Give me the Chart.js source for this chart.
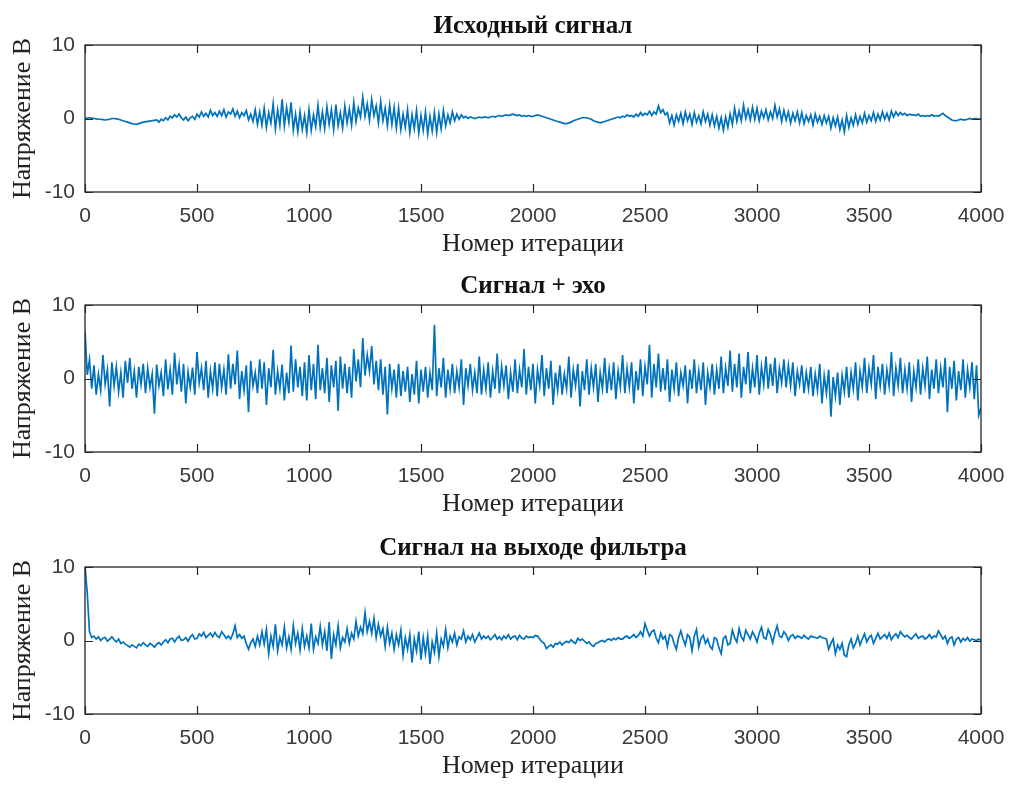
<!DOCTYPE html>
<html>
<head>
<meta charset="utf-8">
<script src="https://cdn.jsdelivr.net/npm/chart.js@4"></script>
<style>
  html, body { margin: 0; padding: 0; background: #fff; }
  body { width: 1014px; height: 785px; position: relative; overflow: hidden; }
  .plot { position: absolute; left: 0; width: 1014px; height: 262px; }
</style>
</head>
<body>
<div class="plot" style="top:0px"><canvas id="c1"></canvas></div>
<div class="plot" style="top:260px"><canvas id="c2"></canvas></div>
<div class="plot" style="top:522px"><canvas id="c3"></canvas></div>
<script>
// sample grid (every 10th iteration, 0..4000)
const STEP = 10;
const iterations = Array.from({ length: 401 }, (_, i) => i * STEP);

const xTicks = [0, 500, 1000, 1500, 2000, 2500, 3000, 3500, 4000];
const yTicks = [-10, 0, 10];

const titles = ["Исходный сигнал", "Сигнал + эхо", "Сигнал на выходе фильтра"];
const xLabel = "Номер итерации";
const yLabel = "Напряжение В";

// values, one row = 200 iterations
const original = [
  0, 0.05, 0.1, 0.05, 0, -0.05, -0.1, -0.1, -0.15, -0.2, -0.15, -0.1, 0, 0, -0.05, -0.1, -0.2, -0.3, -0.4, -0.5,
  -0.6, -0.7, -0.75, -0.8, -0.7, -0.6, -0.5, -0.45, -0.4, -0.35, -0.3, -0.25, -0.2, -0.5, -0.1, -0.3, 0.1, -0.2, 0.3, 0.1,
  0.5, 0.2, 0.6, 0.1, -0.2, 0.2, -0.3, 0.1, 0.3, -0.1, 0.6, 0.2, 0.9, 0.3, 0.7, 0.2, 1.1, 0.4, 0.8, 0.3,
  1.0, 0.4, 1.2, 0.2, 0.9, 0.6, 1.3, 0.3, 1.0, 0.1, 0.8, 0.4, 1.1, -0.2, 0.6, -0.4, 1.2, -0.8, 0.9, -0.9,
  1.4, -1.2, 0.8, -0.6, 2.0, -1.4, 1.2, -0.9, 2.6, -1.0, 1.5, -0.5, 2.2, -1.6, 0.6, -1.8, 0.9, -1.5, 0.4, -1.9,
  1.2, -1.6, 0.5, -1.1, 1.8, -1.2, 0.9, -1.4, 1.6, -0.8, 1.2, -1.5, 1.9, -1.0, 0.8, -1.3, 1.7, -0.6, 1.3, -0.9,
  2.2, -0.4, 1.4, 0.2, 2.9, 0.3, 2.0, -0.2, 2.6, 0.4, 1.7, -0.6, 2.3, -0.3, 1.4, -1.0, 1.8, -0.8, 1.5, -1.3,
  1.4, -1.5, 0.6, -1.2, 1.2, -1.9, 0.5, -1.4, 1.1, -2.0, 0.4, -1.6, 0.9, -2.1, 0.3, -1.7, 0.8, -1.9, 0.6, -1.4,
  1.1, -1.0, 0.5, -0.6, 0.9, -0.3, 0.6, -0.1, 0.5, 0.1, 0.3, 0.0, 0.2, 0.1, 0.0, 0.1, 0.2, 0.1, 0.2, 0.2,
  0.1, 0.2, 0.3, 0.2, 0.3, 0.4, 0.3, 0.4, 0.5, 0.4, 0.5, 0.6, 0.5, 0.4, 0.5, 0.3, 0.4, 0.3, 0.4, 0.3,
  0.3, 0.4, 0.5, 0.4, 0.3, 0.2, 0.1, 0, -0.1, -0.2, -0.3, -0.4, -0.5, -0.6, -0.7, -0.7, -0.6, -0.5, -0.3, -0.2,
  -0.1, 0, 0.1, 0.1, 0.1, 0, -0.1, -0.3, -0.4, -0.5, -0.6, -0.5, -0.4, -0.3, -0.2, -0.1, 0, 0.1, 0.2, 0.1,
  0.3, 0.2, 0.5, 0.3, 0.4, 0.2, 0.6, 0.3, 0.8, 0.4, 0.7, 0.5, 1.0, 0.4, 0.9, 0.6, 1.7, 0.8, 1.2, 0.5,
  0.8, -0.6, 0.4, -0.9, 0.5, -0.4, 0.7, -0.7, 0.9, -0.3, 0.6, -0.8, 0.8, -0.5, 0.4, -0.7, 0.9, -0.4, 0.6, -0.9,
  0.5, -1.0, 0.3, -1.3, 0.1, -1.6, 0.2, -1.2, 0.6, -0.8, 1.4, -0.4, 1.0, -0.3, 1.8, 0.0, 1.2, -0.2, 1.5, -0.1,
  1.4, -0.3, 1.0, 0.1, 1.2, -0.2, 0.9, 0.0, 1.8, 0.2, 1.3, -0.4, 1.1, -0.2, 0.9, -0.6, 0.7, -0.3, 0.9, -0.6,
  0.8, -0.7, 0.4, -0.4, 0.5, -0.9, 0.6, -0.5, 0.3, -0.8, 0.4, -0.6, 0.3, -1.3, 0.1, -1.0, 0.2, -1.5, -0.2, -1.8,
  0.4, -1.2, 0.1, -0.9, 0.5, -0.8, 0.3, -0.6, 0.7, -0.5, 0.4, -0.3, 0.8, -0.4, 0.6, -0.2, 0.9, -0.1, 0.7, -0.2,
  1.0, 0.2, 0.9, 0.4, 0.8, 0.5, 0.7, 0.4, 0.6, 0.5, 0.5, 0.4, 0.6, 0.3, 0.4, 0.3, 0.4, 0.3, 0.5, 0.3,
  0.4, 0.3, 0.5, 0.7, 0.4, 0.2, 0, -0.2, -0.3, -0.3, -0.2, -0.1, -0.2, -0.2, -0.1, 0, -0.1, 0, 0, -0.1,
  0
];

const withEcho = [
  6.5, 0.5, 2.6, -1.4, 1.8, -2.2, 0.6, -1.6, 3.2, -0.8, 1.2, -3.8, 2.2, -1.0, 1.6, -1.8, 0.8, -2.6, 2.4, -0.6,
  2.8, -1.4, 1.0, -2.6, 1.6, -0.8, 2.0, -2.0, 1.4, -1.2, 0.6, -4.8, 1.9, -1.0, 0.8, -2.4, 2.6, -1.5, 1.2, -2.2,
  3.5, -0.8, 1.8, -1.8, 2.0, -3.4, 0.9, -1.2, 1.5, -2.2, 3.6, -0.6, 1.4, -1.6, 2.4, -2.6, 1.0, -1.4, 2.2, -2.4,
  2.0, -1.2, 1.2, -2.2, 3.3, -1.4, 2.0, -0.8, 3.8, -2.8, 1.0, -1.6, 1.8, -4.6, 2.4, -1.0, 0.8, -2.0, 2.6, -1.4,
  2.2, -3.6, 1.4, -1.2, 3.9, -2.2, 1.0, -1.4, 1.9, -3.0, 0.8, -2.0, 4.5, -1.8, 2.6, -1.2, 1.6, -2.4, 2.2, -3.0,
  3.2, -1.6, 2.0, -2.8, 4.6, -1.6, 1.4, -2.0, 2.8, -3.2, 1.8, -1.2, 2.4, -4.4, 3.0, -1.4, 2.0, -2.0, 1.6, -2.6,
  4.0, -0.4, 2.6, -1.2, 5.5, 0.4, 3.2, 1.0, 4.4, -0.8, 2.4, -1.6, 2.6, -2.2, 1.6, -4.9, 2.0, -1.4, 1.2, -2.6,
  2.0, -2.4, 1.0, -1.8, 1.6, -3.2, 0.6, -2.2, 2.4, -3.4, 1.2, -1.8, 1.6, -2.6, 0.8, -1.6, 7.3, -2.4, 1.4, -1.2,
  2.8, -2.6, 1.2, -1.4, 2.0, -2.0, 1.0, -1.2, 2.6, -3.6, 1.4, -1.0, 2.0, -1.6, 0.8, -2.0, 3.0, -2.2, 1.2, -1.4,
  2.2, -2.6, 1.0, -1.4, 3.4, -2.0, 1.6, -1.0, 1.8, -2.8, 0.8, -1.8, 2.6, -2.0, 1.2, -1.2, 4.0, -2.2, 1.6, -1.6,
  2.0, -3.4, 1.2, -1.0, 3.2, -2.4, 1.4, -1.4, 2.4, -3.6, 0.8, -1.6, 1.8, -2.2, 0.6, -1.4, 3.0, -2.6, 1.2, -1.0,
  2.0, -3.8, 1.0, -1.6, 2.6, -2.2, 1.4, -1.2, 2.0, -3.2, 0.8, -1.4, 2.8, -2.0, 1.2, -1.6, 2.2, -2.8, 1.0, -1.2,
  3.2, -2.0, 1.4, -1.2, 2.2, -3.4, 1.0, -1.6, 2.6, -2.4, 1.6, -0.8, 4.6, -2.6, 2.0, -1.2, 3.4, -1.8, 1.4, -1.6,
  2.6, -3.2, 1.2, -1.4, 2.2, -2.4, 0.8, -1.0, 1.8, -3.4, 1.2, -1.4, 2.6, -2.0, 1.0, -1.6, 2.2, -3.6, 0.8, -1.2,
  2.0, -2.2, 1.2, -1.4, 3.0, -2.0, 1.4, -1.0, 3.8, -1.8, 2.0, -1.2, 3.4, -2.6, 1.6, -0.8, 3.6, -2.0, 1.4, -1.2,
  3.2, -2.2, 1.6, -0.8, 3.0, -1.4, 2.0, -1.0, 2.8, -2.0, 1.4, -0.6, 2.6, -1.2, 1.8, -1.0, 2.2, -2.4, 1.0, -0.8,
  1.8, -2.0, 0.8, -1.4, 1.6, -2.4, 0.6, -1.6, 2.0, -3.4, 0.4, -2.0, 1.2, -5.2, 0.2, -2.4, 0.8, -3.6, 0.4, -1.8,
  1.6, -2.6, 0.8, -1.4, 2.2, -3.0, 1.0, -1.2, 2.8, -2.0, 1.4, -0.8, 3.2, -2.8, 1.6, -1.0, 2.0, -2.2, 1.2, -1.0,
  3.6, -2.4, 1.4, -1.0, 2.8, -2.0, 1.2, -1.4, 2.2, -3.2, 1.0, -1.2, 2.6, -2.2, 1.4, -1.0, 3.0, -2.8, 1.2, -1.4,
  2.6, -2.0, 1.4, -1.2, 2.8, -4.6, 1.6, -1.4, 2.4, -3.0, 1.0, -1.6, 2.6, -2.6, 1.2, -1.2, 2.2, -2.8, 1.8, -5.0,
  -4.0
];

const filtered = [
  10, 6.5, 1.2, 0.4, 0.6, 0.2, 0.5, 0.0, 0.3, 0.4, -0.1, 0.2, 0.5, 0.1, -0.2, 0.2, -0.4, -0.2, -0.5, -0.7,
  -0.9, -0.6, -0.8, -1.0, -0.5, -0.7, -0.3, -0.6, -0.8, -0.4, -0.6, -0.9, -0.5, -0.3, -0.6, -0.2, 0.1, -0.3, 0.2, 0.3,
  -0.2, 0.3, 0.6, 0.0, 0.1, 0.4, -0.1, 0.5, 0.8, 0.2, 0.3, 0.9, 0.6, 1.1, 0.4, 0.7, 1.0, 0.5, 1.1, 0.6,
  0.4, 1.2, 0.8, 0.3, 0.6, 0.2, 0.9, 2.0, 0.4, 0.8, 0.3, 0.6, -0.4, -1.2, -0.3, 0.2, -0.8, 0.6, -0.6, 1.2,
  -0.5, 1.5, -1.8, 0.6, -0.8, 2.2, -1.4, 0.4, -0.6, 1.8, -1.0, 0.5, -1.2, 2.0, -0.4, 1.0, -1.3, 1.6, -0.8, 0.6,
  -1.0, 2.3, -1.2, 0.5, -0.4, 1.9, -0.6, 1.2, -1.4, 2.5, -2.5, 0.8, -0.6, 2.0, -1.0, 0.4, -0.2, 1.6, -0.4, 1.0,
  0.2, 2.6, 0.6, 1.8, 0.9, 3.8, 1.2, 2.6, 1.0, 3.0, 0.4, 2.2, 0.6, 1.6, -0.8, 1.8, -0.4, 1.0, -1.2, 0.8,
  -0.6, 1.4, -2.0, 0.4, -1.2, 0.8, -3.0, 0.2, -1.4, 1.2, -2.6, 0.4, -1.8, 0.6, -3.2, -0.2, -1.6, 1.0, -2.2, 0.2,
  -0.8, 1.5, -1.0, 0.6, -0.2, 1.0, -0.6, 0.5, 0.2, 1.3, -0.2, 0.6, 0.1, 0.8, -0.2, 0.4, 1.0, 0.2, 0.6, 0.3,
  0.6, 0.1, 0.4, 0.8, 0.2, 0.5, 0.1, 0.6, 0.3, 0.8, 0.2, 0.5, 0.6, 0.1, 0.7, 0.3, 0.2, 0.6, 0.4, 0.5,
  0.4, 0.7, 0.6, 0.2, -0.2, -0.4, -1.1, -0.8, -0.6, -0.9, -0.4, -0.5, -0.2, -0.6, -0.3, -0.1, -0.3, 0.1, -0.2, -0.4,
  0.3, 0.0, 0.2, -0.1, -0.4, -0.2, -0.6, -0.8, -0.4, -0.3, -0.1, 0.0, -0.2, 0.1, 0.2, 0.0, 0.3, 0.1, 0.4, 0.2,
  0.2, 0.5, 0.6, 0.3, 0.5, 0.8, 0.4, 0.7, 1.2, 0.6, 2.3, 1.4, 0.6, 1.2, 1.4, 0.3, -0.3, 1.0, 0.2, 0.6,
  -0.8, 0.8, 0.6, -0.4, -1.2, 0.4, 1.3, 0.2, -0.6, 0.8, 0.4, -1.4, 0.6, 1.5, -0.9, 0.3, 0.7, -0.4, 0.2, -0.8,
  -1.2, 0.4, 0.2, -1.0, -1.8, 0.3, 0.6, -0.6, -0.4, 1.4, 0.4, -0.2, 1.6, 0.5, 0.0, 1.4, 0.8, 0.2, 1.2, 0.6,
  -0.2, 1.0, 1.8, 0.4, 0.2, 1.5, 0.8, -0.3, 1.0, 2.0, 0.6, 0.4, 1.2, 0.8, 0.0, 0.6, 0.8, 0.3, 0.6, 0.5,
  0.3, 0.7, 0.4, 0.2, 0.6, 0.5, 0.4, 0.3, 0.6, 0.4, 0.3, 0.2, -1.2, -0.4, 0.2, -1.8, -0.6, -1.2, -0.4, -2.0,
  -2.2, -0.6, 0.2, -1.0, -0.4, 0.6, -0.6, 0.2, 0.9, -0.2, 0.4, 0.7, -0.4, 0.3, 1.0, 0.2, 0.5, 0.8, 0.3, 1.0,
  0.1, 0.6, 0.9, 0.4, 1.2, 0.8, 0.5, 0.7, 0.4, 0.2, 0.6, 0.9, 0.3, 0.5, 0.6, 0.2, 0.4, 0.8, 0.3, 0.6,
  0.5, 1.3, 0.8, 0.2, 0.6, -0.4, 0.3, 0.5, -0.6, 0.2, 0.4, -0.2, 0.3, 0.0, 0.4, -0.1, 0.2, 0.1, 0.0, 0.2,
  0
];

const series = [original, withEcho, filtered];
const LINE = "#0072BD";
const AXIS = "#262626";
const SERIF = "'Liberation Serif', 'Times New Roman', serif";
const SANS = "'Liberation Sans', Arial, sans-serif";

// MATLAB-like box with inward tick marks + bold title above the axes
const matlabBox = {
  id: "matlabBox",
  afterDatasetsDraw(chart, args, opts) {
    const { ctx, chartArea: a, scales } = chart;
    ctx.save();
    ctx.strokeStyle = AXIS;
    ctx.lineWidth = 1.3;
    ctx.strokeRect(a.left, a.top, a.right - a.left, a.bottom - a.top);
    ctx.lineWidth = 1.2;
    ctx.beginPath();
    scales.x.ticks.forEach(t => {
      const px = Math.round(scales.x.getPixelForValue(t.value)) + 0.5;
      ctx.moveTo(px, a.bottom); ctx.lineTo(px, a.bottom - 8);
      ctx.moveTo(px, a.top); ctx.lineTo(px, a.top + 8);
    });
    scales.y.ticks.forEach(t => {
      const py = Math.round(scales.y.getPixelForValue(t.value)) + 0.5;
      ctx.moveTo(a.left, py); ctx.lineTo(a.left + 8, py);
      ctx.moveTo(a.right, py); ctx.lineTo(a.right - 8, py);
    });
    ctx.stroke();
    ctx.fillStyle = "#111";
    ctx.font = "bold 25px " + SERIF;
    ctx.textAlign = "center";
    ctx.textBaseline = "alphabetic";
    ctx.fillText(opts.text, (a.left + a.right) / 2, a.top - 12);
    ctx.restore();
  }
};

function makeChart(id, values, title) {
  return new Chart(document.getElementById(id), {
    type: "line",
    data: {
      labels: iterations,
      datasets: [{
        data: values,
        borderColor: LINE,
        borderWidth: 1.7,
        pointRadius: 0,
        tension: 0,
        fill: false
      }]
    },
    options: {
      responsive: true,
      maintainAspectRatio: false,
      animation: false,
      events: [],
      layout: { padding: { top: 45, right: 33, left: 0, bottom: 0 } },
      plugins: {
        legend: { display: false },
        tooltip: { enabled: false },
        matlabBox: { text: title }
      },
      scales: {
        x: {
          type: "linear",
          min: 0,
          max: 4000,
          afterBuildTicks: s => { s.ticks = xTicks.map(v => ({ value: v })); },
          afterFit: s => { s.height = 70; s.paddingLeft = 0; s.paddingRight = 0; },
          grid: { display: false, drawTicks: false },
          border: { display: false },
          ticks: { color: "#3a3a3a", font: { family: SANS, size: 21 }, padding: 12, maxRotation: 0, callback: v => String(v) },
          title: { display: true, text: xLabel, color: "#222", font: { family: SERIF, size: 26 }, padding: { top: 0, bottom: 2 } }
        },
        y: {
          min: -10,
          max: 10,
          afterBuildTicks: s => { s.ticks = yTicks.map(v => ({ value: v })); },
          afterFit: s => { s.width = 85; s.paddingTop = 0; s.paddingBottom = 0; },
          grid: { display: false, drawTicks: false },
          border: { display: false },
          ticks: { color: "#3a3a3a", font: { family: SANS, size: 21 }, padding: 10, callback: v => String(v) },
          title: { display: true, text: yLabel, color: "#222", font: { family: SERIF, size: 26 }, padding: { top: 8, bottom: 0 } }
        }
      }
    },
    plugins: [matlabBox]
  });
}

makeChart("c1", series[0], titles[0]);
makeChart("c2", series[1], titles[1]);
makeChart("c3", series[2], titles[2]);
</script>
</body>
</html>
